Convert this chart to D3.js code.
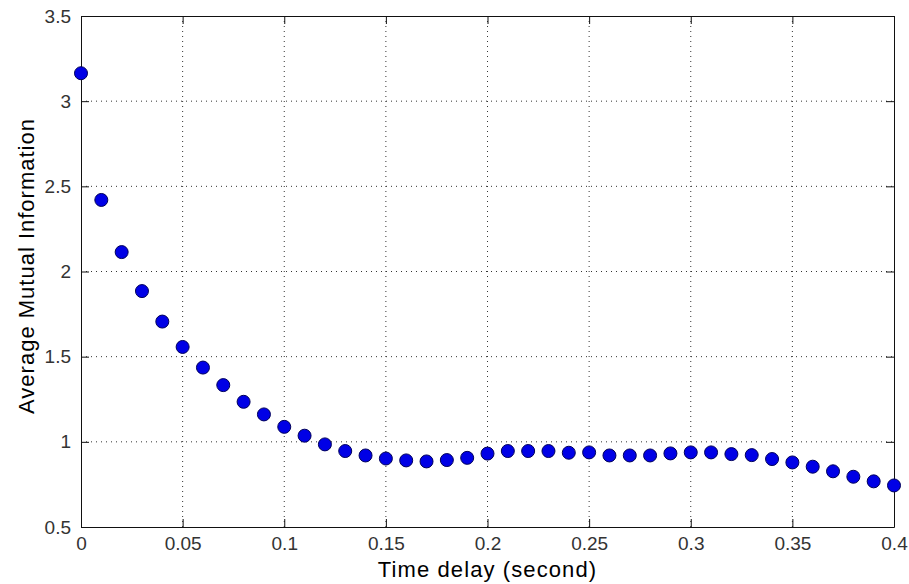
<!DOCTYPE html>
<html>
<head>
<meta charset="utf-8">
<script src="https://cdn.jsdelivr.net/npm/d3@7"></script>
<style>
  body { margin: 0; background: #fff; }
  text { font-family: "Liberation Sans", Arial, sans-serif; }
</style>
</head>
<body>
<div id="myPlot"></div>
<script>
// Data
const delays = [0, 0.01, 0.02, 0.03, 0.04, 0.05, 0.06, 0.07, 0.08, 0.09,
                0.10, 0.11, 0.12, 0.13, 0.14, 0.15, 0.16, 0.17, 0.18, 0.19,
                0.20, 0.21, 0.22, 0.23, 0.24, 0.25, 0.26, 0.27, 0.28, 0.29,
                0.30, 0.31, 0.32, 0.33, 0.34, 0.35, 0.36, 0.37, 0.38, 0.39, 0.40];
const mutualInfo = [3.164, 2.42, 2.114, 1.885, 1.706, 1.557, 1.436, 1.333, 1.235, 1.161,
                    1.088, 1.036, 0.985, 0.946, 0.92, 0.902, 0.891, 0.885, 0.893, 0.906,
                    0.931, 0.946, 0.946, 0.946, 0.936, 0.938, 0.92, 0.92, 0.92, 0.932,
                    0.938, 0.938, 0.928, 0.922, 0.899, 0.879, 0.854, 0.827, 0.795, 0.768, 0.744];
const xTicks = [0, 0.05, 0.1, 0.15, 0.2, 0.25, 0.3, 0.35, 0.4];
const yTicks = [0.5, 1, 1.5, 2, 2.5, 3, 3.5];
const xLabel = "Time delay (second)";
const yLabel = "Average Mutual Information";

const width = 909, height = 584;
const margin = { top: 16, right: 15, bottom: 57, left: 81 };
const xMax = width - margin.left - margin.right;
const yMax = height - margin.top - margin.bottom;

const svg = d3.select("#myPlot")
    .append("svg")
    .attr("width", width)
    .attr("height", height);

const g = svg.append("g")
    .attr("transform", "translate(" + margin.left + "," + margin.top + ")");

const x = d3.scaleLinear().domain([0, 0.4]).range([0, xMax]);
const y = d3.scaleLinear().domain([0.5, 3.5]).range([yMax, 0]);

// Dotted grid
g.append("g")
    .selectAll("line")
    .data(xTicks.slice(1, -1))
    .join("line")
    .attr("x1", d => x(d)).attr("x2", d => x(d))
    .attr("y1", 0).attr("y2", yMax)
    .attr("stroke", "#333")
    .attr("stroke-dasharray", "1,4");

g.append("g")
    .selectAll("line")
    .data(yTicks.slice(1, -1))
    .join("line")
    .attr("x1", 0).attr("x2", xMax)
    .attr("y1", d => y(d)).attr("y2", d => y(d))
    .attr("stroke", "#333")
    .attr("stroke-dasharray", "1,4");

// Axes with inward ticks on all four sides
const fmt = d => String(d);
const xAxisB = g.append("g")
    .attr("transform", "translate(0," + yMax + ")")
    .call(d3.axisBottom(x).tickValues(xTicks).tickFormat(fmt).tickSizeInner(-8).tickSizeOuter(0).tickPadding(10));
const yAxisL = g.append("g")
    .call(d3.axisLeft(y).tickValues(yTicks).tickFormat(fmt).tickSizeInner(-8).tickSizeOuter(0).tickPadding(10));
g.append("g")
    .call(d3.axisTop(x).tickValues(xTicks).tickFormat("").tickSizeInner(-8).tickSizeOuter(0));
g.append("g")
    .attr("transform", "translate(" + xMax + ",0)")
    .call(d3.axisRight(y).tickValues(yTicks).tickFormat("").tickSizeInner(-8).tickSizeOuter(0));

g.selectAll(".domain").attr("stroke", "#111");
g.selectAll(".tick line").attr("stroke", "#111");
g.selectAll(".tick text")
    .style("font-family", "'Liberation Sans', Arial, sans-serif")
    .style("font-size", "19px")
    .attr("fill", "#333");
xAxisB.selectAll(".tick text").attr("dy", "0.71em");

// Dots
g.selectAll("circle")
    .data(delays.map((d, i) => ({ t: d, v: mutualInfo[i] })))
    .join("circle")
    .attr("cx", d => x(d.t))
    .attr("cy", d => y(d.v))
    .attr("r", 6.5)
    .attr("fill", "#0000e6")
    .attr("stroke", "#00005a")
    .attr("stroke-width", 1);

// Labels
svg.append("text")
    .attr("x", margin.left + xMax / 2)
    .attr("y", 577)
    .attr("text-anchor", "middle")
    .style("font-size", "22px")
    .style("letter-spacing", "1.1px")
    .attr("fill", "#000")
    .text(xLabel);

svg.append("text")
    .attr("transform", "translate(34," + 266 + ") rotate(-90)")
    .attr("text-anchor", "middle")
    .style("font-size", "22px")
    .style("letter-spacing", "1px")
    .attr("fill", "#000")
    .text(yLabel);
</script>
</body>
</html>
